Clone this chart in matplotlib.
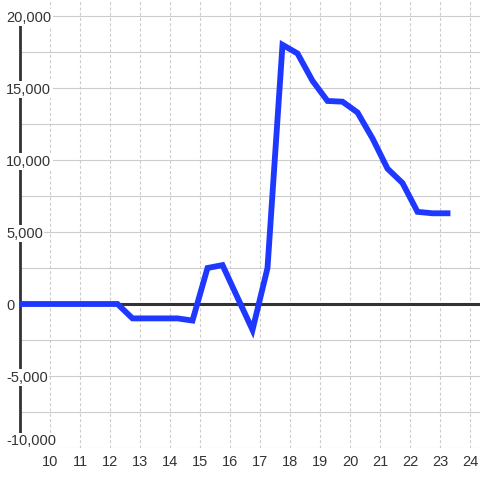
import matplotlib.pyplot as plt
from matplotlib.ticker import FuncFormatter

plt.rcParams['font.family'] = ['Liberation Sans', 'DejaVu Sans']
plt.rcParams['lines.scale_dashes'] = False

# data (half-year steps)
years = [8.75, 9.25, 9.75, 10.25, 10.75, 11.25, 11.75, 12.25, 12.75, 13.25,
         13.75, 14.25, 14.75, 15.25, 15.75, 16.25, 16.75, 17.25, 17.75, 18.25,
         18.75, 19.25, 19.75, 20.25, 20.75, 21.25, 21.75, 22.25, 22.75, 23.25]
values = [0, 0, 0, 0, 0, 0, 0, 0, -1000, -1000,
          -1000, -1000, -1150, 2500, 2700, 450, -1800, 2500, 18000, 17400,
          15500, 14100, 14050, 13300, 11500, 9400, 8400, 6400, 6300, 6300]

x_ticks = list(range(10, 25))
y_labels = [-10000, -5000, 0, 5000, 10000, 15000, 20000]
y_grid = [-10000, -7500, -5000, -2500, 2500, 5000, 7500, 10000, 12500, 15000, 17500, 20000]

grid_col = '#cccccc'
dark = '#333333'

fig = plt.figure(figsize=(4.8, 4.8), dpi=100)
ax = fig.add_axes([20 / 480, 32 / 480, 460 / 480, 448 / 480])
ax.set_xlim(9.0, 9.0 + 460 / 30)
ax.set_ylim(-10000, -10000 + 448 / 14.4 * 1000)
for s in ax.spines.values():
    s.set_visible(False)

# grid
for v in x_ticks:
    ax.axvline(v, color=grid_col, lw=0.8, dashes=(2.2, 1.6), zorder=1)
for h in y_grid:
    ax.axhline(h, color=grid_col, lw=0.8, zorder=1)

# zero line and left axis line
ax.axhline(0, color=dark, lw=2.2, zorder=2)
ax.plot([9.0, 9.0], [-10000, 20000], color=dark, lw=2.0, zorder=2,
        solid_capstyle='butt', clip_on=False)

ax.plot(years, values, color='#1f38ff', lw=4.2, zorder=3,
        solid_joinstyle='miter', solid_capstyle='projecting')

ax.set_xticks(x_ticks)
ax.set_yticks(y_labels)
ax.yaxis.set_major_formatter(FuncFormatter(lambda v, p: '{:,.0f}'.format(v)))
ax.tick_params(axis='x', length=0, pad=5, labelsize=10.5, labelcolor=dark)
ax.tick_params(axis='y', length=0, pad=10, labelsize=10.5, labelcolor=dark)
ax.yaxis.set_zorder(5)
for lab in ax.get_yticklabels():
    lab.set_horizontalalignment('left')
    lab.set_bbox(dict(facecolor='white', edgecolor='none', pad=1.0))
# lowest label sits above its gridline, as in the reference
ax.get_yticklabels()[0].set_verticalalignment('bottom')

fig.savefig('out.png', dpi=100, facecolor='white')
